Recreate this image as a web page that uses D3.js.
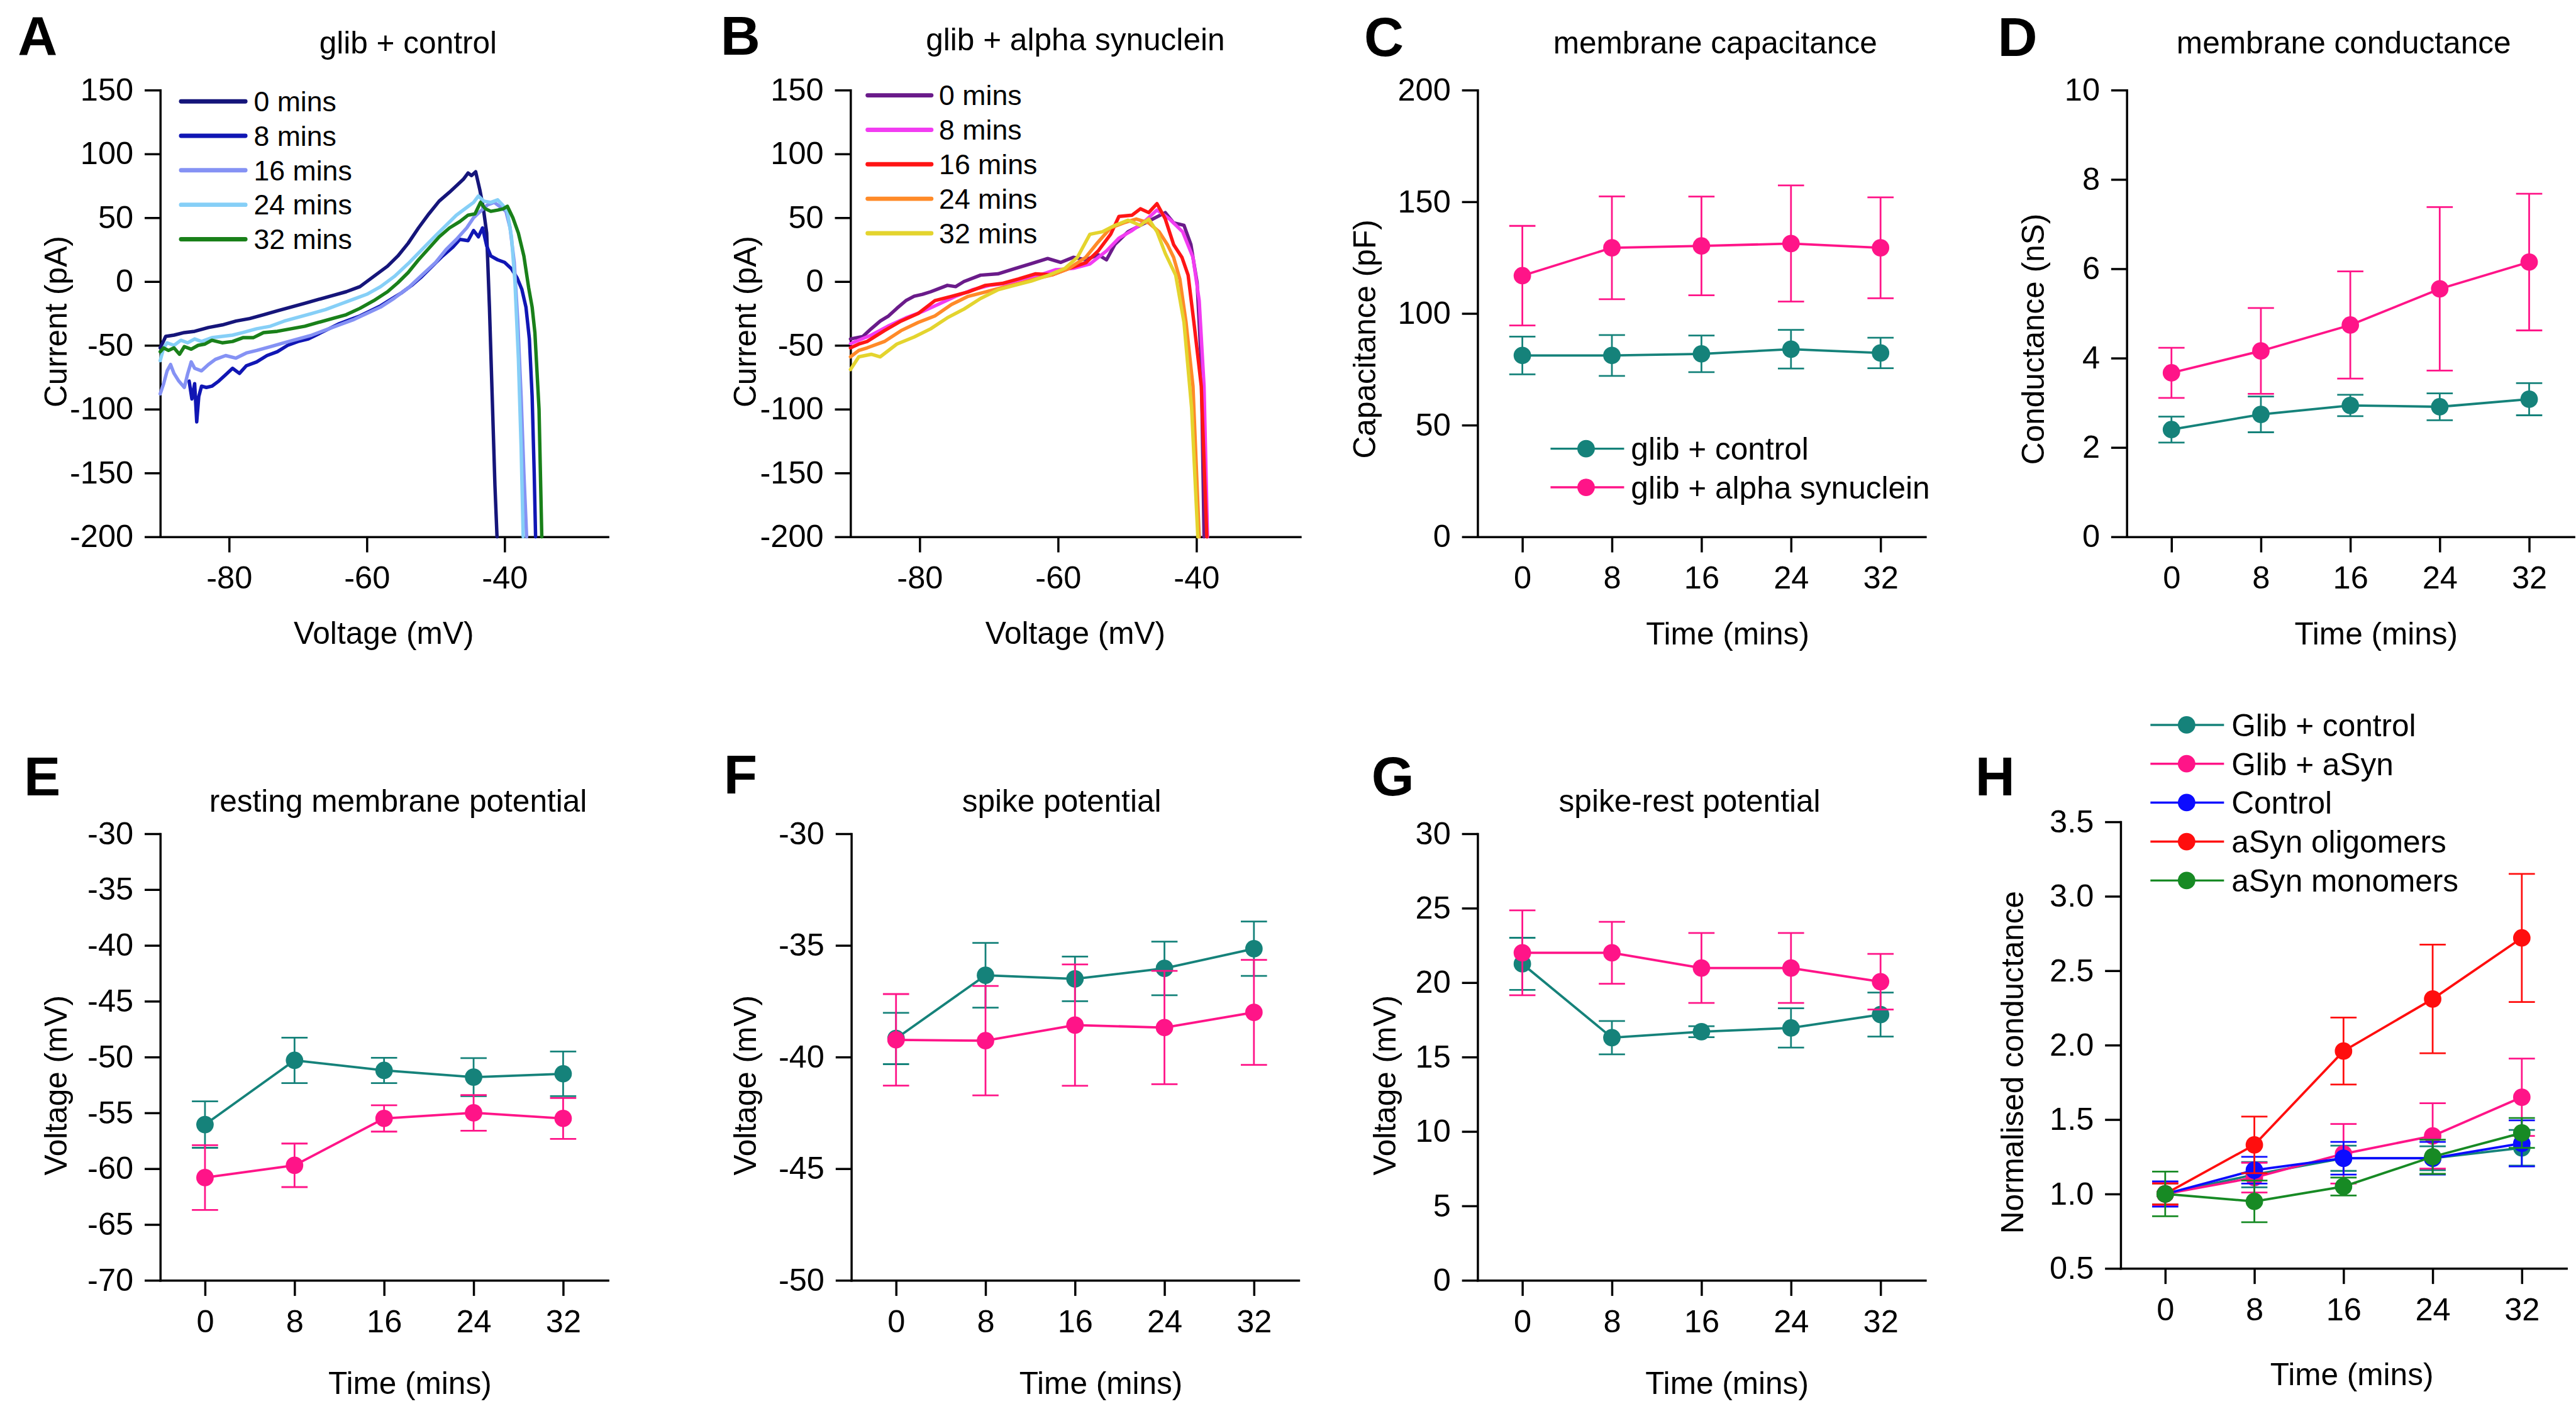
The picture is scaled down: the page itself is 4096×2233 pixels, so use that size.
<!DOCTYPE html>
<html><head><meta charset="utf-8">
<script src="https://cdn.jsdelivr.net/npm/d3@7"></script>
<style>html,body{margin:0;padding:0;background:#fff;overflow:hidden}</style>
</head><body>
<svg id="fig"></svg>
<script>
// ---------------- DATA ----------------
const ivLegendLabels = ['0 mins', '8 mins', '16 mins', '24 mins', '32 mins'];
const voltageTicks = [-80, -60, -40];
const currentTicks = [-200, -150, -100, -50, 0, 50, 100, 150];

// Panel A: glib + control  ([voltage mV, current pA])
const ctrl0 = [[-90,-52],[-89.2,-43],[-88,-42],[-86.5,-40],[-85,-39],[-83,-36],[-81,-34],[-79,-31],[-77,-29],[-75,-26],[-73,-23],[-71,-20],[-69,-17],[-67,-14],[-65,-11],[-63,-8],[-61,-4],[-59,4],[-57,12],[-55.5,20],[-54,30],[-52.5,42],[-51,53],[-49.5,63],[-48,70],[-47,75],[-46,80],[-45.3,85],[-44.8,83],[-44.2,86],[-43.6,72],[-43.1,58],[-42.6,38],[-42.2,-20],[-41.8,-90],[-41.4,-160],[-41.1,-200]];
const ctrl8 = [[-85.8,-78],[-85.4,-92],[-85.0,-80],[-84.7,-110],[-84.4,-90],[-84.0,-82],[-83.3,-83],[-82.5,-82],[-81.5,-78],[-80.5,-73],[-79.5,-68],[-78.5,-72],[-77.5,-66],[-76,-63],[-74.5,-58],[-73,-55],[-71.5,-50],[-70,-47],[-68.5,-45],[-67,-41],[-65.5,-37],[-64,-33],[-62.5,-30],[-61,-27],[-59.5,-23],[-58,-19],[-56.5,-14],[-55,-9],[-53.5,-3],[-52,4],[-50.5,12],[-49,20],[-47.5,27],[-46.5,33],[-45.3,32],[-44.5,40],[-43.8,35],[-43.2,42],[-42.6,28],[-42,20],[-41,17],[-40,15],[-39,10],[-38.2,3],[-37.5,-6],[-36.9,-20],[-36.4,-45],[-36.0,-90],[-35.7,-150],[-35.5,-200]];
const ctrl16 = [[-90,-88],[-89.5,-80],[-89,-70],[-88.5,-65],[-88,-72],[-87.3,-78],[-86.5,-83],[-86,-72],[-85.5,-63],[-85,-68],[-84,-70],[-83,-65],[-82,-61],[-80.5,-58],[-79,-60],[-77.5,-56],[-76,-54],[-74,-51],[-72,-48],[-70,-45],[-68,-42],[-66,-38],[-64,-34],[-62,-30],[-60,-25],[-58,-20],[-56,-13],[-54,-5],[-52,5],[-50,15],[-48.5,25],[-47,33],[-45.5,42],[-44.5,50],[-43.5,55],[-42.5,60],[-41.5,62],[-40.5,58],[-39.8,55],[-39.2,42],[-38.6,15],[-38.1,-30],[-37.6,-90],[-37.2,-150],[-36.8,-200]];
const ctrl24 = [[-90,-62],[-89.5,-52],[-89,-48],[-88,-50],[-87,-46],[-86,-48],[-85,-45],[-84,-47],[-82.5,-44],[-81,-43],[-79.5,-42],[-78,-40],[-76,-37],[-74,-35],[-72,-31],[-70,-28],[-68,-25],[-66,-22],[-64,-18],[-62,-14],[-60,-10],[-58,-4],[-56,4],[-54,14],[-52,25],[-50,36],[-48.5,44],[-47,52],[-45.5,58],[-44.5,62],[-43.8,67],[-43,63],[-42,62],[-41,64],[-40.3,60],[-39.6,55],[-39,35],[-38.5,0],[-38,-60],[-37.6,-130],[-37.3,-200]];
const ctrl32 = [[-90,-55],[-89.5,-52],[-88.8,-54],[-88,-52],[-87.2,-57],[-86.5,-51],[-85.5,-53],[-84.5,-50],[-83.5,-49],[-82.5,-46],[-81,-48],[-79.5,-47],[-78,-44],[-76.5,-44],[-75,-40],[-73,-39],[-71,-37],[-69,-35],[-67,-32],[-65,-29],[-63,-26],[-61,-21],[-59,-15],[-57,-8],[-55.5,-1],[-54,7],[-52.5,17],[-51,26],[-49.5,35],[-48,42],[-46.5,47],[-45.3,52],[-44.3,53],[-43.5,62],[-42.8,57],[-42,55],[-41,56],[-40.2,57],[-39.6,59],[-38.8,50],[-38,38],[-37.2,20],[-36.5,-5],[-36,-20],[-35.6,-40],[-35.3,-70],[-35,-100],[-34.8,-150],[-34.6,-200]];

// Panel B: glib + alpha synuclein
const syn0 = [[-90,-45],[-88.2,-43],[-87,-37],[-85.7,-31],[-84.5,-27],[-83.3,-21],[-82,-15],[-80.8,-11.5],[-79.6,-10],[-78.4,-8],[-76,-3],[-74.8,-4],[-73.6,0],[-71.2,5],[-68.7,6],[-66.3,10],[-63.9,14],[-61.5,18],[-59.6,15],[-57.8,19],[-56,17],[-54.2,21],[-53,17],[-51.8,29],[-49.9,39],[-48.1,44],[-46.3,49],[-44.5,54],[-43.3,46],[-41.8,44],[-40.8,29],[-39.9,-1],[-39.3,-65],[-38.9,-200]];
const syn8 = [[-90,-48.6],[-87,-42],[-84.6,-35],[-82,-28.5],[-79.6,-23.5],[-77.2,-17.6],[-74.8,-11.6],[-72.4,-6.5],[-69.9,-3],[-67.5,-1.5],[-65.1,2],[-62.7,5],[-60.3,9.3],[-57.8,10.3],[-55.4,13.7],[-53,24],[-51.2,34],[-49.3,40],[-47.5,47],[-45.7,56],[-43.9,49],[-42,39],[-40.5,19],[-39.6,-15],[-38.9,-82],[-38.4,-200]];
const syn16 = [[-90,-52],[-88.8,-49],[-87.6,-47],[-85.1,-38.5],[-82.7,-31],[-80.2,-25],[-77.8,-15],[-75.4,-11.6],[-73,-8.2],[-70.5,-3],[-68.1,-1.5],[-65.7,2],[-63.3,6],[-60.8,5.3],[-58.4,10.3],[-56,14.7],[-54.2,24],[-52.4,37],[-51.2,51],[-49.3,52],[-48.1,57],[-46.9,54],[-45.7,61],[-44.5,49],[-43.3,29],[-42.1,19],[-41.2,5],[-40.3,-35],[-39.3,-82],[-38.5,-200]];
const syn24 = [[-90,-59],[-88.8,-54],[-87.6,-52],[-85.1,-47],[-82.7,-38.5],[-80.2,-32],[-77.8,-27],[-75.4,-18],[-73,-11.6],[-70.5,-8.2],[-68.1,-4.8],[-65.7,-1.5],[-63.3,2],[-60.8,5.3],[-58.4,10.3],[-56,19],[-54.2,31],[-52.4,42],[-50.5,46],[-48.7,49],[-46.9,46],[-45.4,39],[-44.2,29],[-43.3,19],[-42.4,2],[-41.5,-32],[-40.5,-82],[-39.6,-200]];
const syn32 = [[-90,-69],[-88.8,-59],[-87,-57],[-85.7,-59],[-83.3,-49],[-80.8,-43.5],[-78.4,-37],[-76,-28.4],[-73.6,-21.6],[-71.2,-13.3],[-68.7,-6.5],[-66.3,-3],[-63.9,0.3],[-61.5,4.7],[-59,10.3],[-57.2,19],[-55.4,37],[-53.6,39],[-51.8,44],[-49.9,48],[-48.1,44],[-46.9,49],[-45.7,39],[-44.5,22],[-43,5],[-41.8,-32],[-40.7,-99],[-39.8,-200]];

// Time-course panels
const timePoints = [0, 8, 16, 24, 32];
const capTicks = [0, 50, 100, 150, 200];
const condTicks = [0, 2, 4, 6, 8, 10];
const restTicks = [-70, -65, -60, -55, -50, -45, -40, -35, -30];
const spikeTicks = [-50, -45, -40, -35, -30];
const spikeRestTicks = [0, 5, 10, 15, 20, 25, 30];
const normTicks = [0.5, 1.0, 1.5, 2.0, 2.5, 3.0, 3.5];

const capControl = [81.2, 81.2, 81.9, 84.0, 82.3];
const capControlSem = [8.45, 9.15, 8.2, 8.65, 6.8];
const capSyn = [116.9, 129.4, 130.2, 131.3, 129.4];
const capSynSem = [22.3, 23.0, 22.1, 26.0, 22.6];

const condControl = [2.40, 2.74, 2.94, 2.91, 3.08];
const condControlSem = [0.29, 0.40, 0.24, 0.30, 0.36];
const condSyn = [3.67, 4.16, 4.74, 5.55, 6.15];
const condSynSem = [0.56, 0.96, 1.20, 1.83, 1.53];

const restControl = [-56.05, -50.3, -51.2, -51.8, -51.5];
const restControlSem = [2.08, 2.03, 1.13, 1.7, 2.0];
const restSyn = [-60.8, -59.7, -55.5, -55.0, -55.5];
const restSynSem = [2.9, 1.95, 1.18, 1.6, 1.83];

const spikeControl = [-39.17, -36.34, -36.5, -36.03, -35.15];
const spikeControlSem = [1.15, 1.45, 1.0, 1.2, 1.22];
const spikeSyn = [-39.23, -39.27, -38.57, -38.68, -38.0];
const spikeSynSem = [2.05, 2.45, 2.72, 2.54, 2.35];

const srControl = [21.26, 16.3, 16.7, 16.95, 17.85];
const srControlSem = [1.75, 1.12, 0.37, 1.32, 1.48];
const srSyn = [22.0, 22.0, 20.98, 20.98, 20.06];
const srSynSem = [2.85, 2.08, 2.35, 2.35, 1.87];

const normLabels = ['Glib + control', 'Glib + aSyn', 'Control', 'aSyn oligomers', 'aSyn monomers'];
const normGlibControl = [1.0, 1.13, 1.24, 1.24, 1.31];
const normGlibControlSem = [0.07, 0.085, 0.085, 0.08, 0.12];
const normGlibSyn = [1.0, 1.11, 1.27, 1.39, 1.65];
const normGlibSynSem = [0.08, 0.10, 0.20, 0.22, 0.26];
const normControl = [1.0, 1.16, 1.24, 1.24, 1.34];
const normControlSem = [0.085, 0.09, 0.11, 0.11, 0.155];
const normOligo = [1.0, 1.33, 1.96, 2.31, 2.72];
const normOligoSem = [0.07, 0.19, 0.225, 0.365, 0.43];
const normMono = [1.0, 0.95, 1.05, 1.25, 1.41];
const normMonoSem = [0.15, 0.14, 0.06, 0.115, 0.10];

// ---------------- STYLE / LAYOUT ----------------
const FONT = '"Liberation Sans", Arial, Helvetica, sans-serif';
const TEAL = '#15827a', PINK = '#ff1488', BLUE = '#0c0cff', RED = '#ff0e0e', GREEN = '#178a24';
const ctrlColors = ['#15157a', '#1016b4', '#8592f4', '#86cff7', '#198019'];
const synColors = ['#6a1b8a', '#f23cf2', '#ff1515', '#ff8a28', '#e4d42e'];

const svg = d3.select('#fig').attr('width', 4096).attr('height', 2233)
  .attr('viewBox', '0 0 4130 2252');
svg.append('rect').attr('width', 4130).attr('height', 2252).attr('fill', '#fff');

function txt(x, y, s, size, opts = {}) {
  return svg.append('text').attr('x', x).attr('y', y).text(s)
    .attr('font-family', FONT).attr('font-size', size)
    .attr('font-weight', opts.bold ? 'bold' : 'normal')
    .attr('text-anchor', opts.anchor || 'middle').attr('fill', '#000');
}
function ylabel(bx, cy, s) {
  svg.append('text').attr('transform', `translate(${bx},${cy}) rotate(-90)`)
    .text(s).attr('font-family', FONT).attr('font-size', 50)
    .attr('text-anchor', 'middle').attr('fill', '#000');
}

function axes(L, xDom, yDom, xTicks, yTicks, yFmt) {
  const x = d3.scaleLinear().domain(xDom).range([L.x0, L.x1]);
  const y = d3.scaleLinear().domain(yDom).range([L.yB, L.yT]);
  const g = svg.append('g');
  const ax = g.append('g').attr('transform', `translate(0,${L.yB})`)
    .call(d3.axisBottom(x).tickValues(xTicks).tickSize(25).tickSizeOuter(0).tickPadding(22).tickFormat(d => String(d)));
  const ay = g.append('g').attr('transform', `translate(${L.x0},0)`)
    .call(d3.axisLeft(y).tickValues(yTicks).tickSize(25).tickSizeOuter(0).tickPadding(18).tickFormat(yFmt || (d => String(d))));
  [ax, ay].forEach(a => {
    a.select('.domain').attr('stroke', '#000').attr('stroke-width', 3.5).attr('stroke-linecap', 'square');
    a.selectAll('.tick line').attr('stroke', '#000').attr('stroke-width', 3.5);
    a.selectAll('.tick text').attr('font-size', 51).attr('font-family', FONT).attr('fill', '#000');
  });
  return { x, y, g };
}

function traces(P, list, colors) {
  const line = d3.line().x(d => P.x(d[0])).y(d => P.y(d[1]));
  P.g.selectAll(null).data(list).enter().append('path')
    .attr('d', d => line(d)).attr('fill', 'none')
    .attr('stroke', (d, i) => colors[i]).attr('stroke-width', 5.5)
    .attr('stroke-linejoin', 'round').attr('stroke-linecap', 'round');
}

function ivLegend(x0, x1, tx, rows, colors) {
  ivLegendLabels.forEach((lab, i) => {
    svg.append('line').attr('x1', x0).attr('x2', x1).attr('y1', rows[i]).attr('y2', rows[i])
      .attr('stroke', colors[i]).attr('stroke-width', 7).attr('stroke-linecap', 'round');
    txt(tx, rows[i] + 16, lab, 45, { anchor: 'start' });
  });
}

function series(P, means, sems, color) {
  const pts = timePoints.map((t, i) => ({ t, m: means[i], e: sems[i] }));
  const g = P.g.append('g');
  const cap = 21;
  pts.forEach(p => {
    const xx = P.x(p.t), yl = P.y(p.m - p.e), yh = P.y(p.m + p.e);
    g.append('line').attr('x1', xx).attr('x2', xx).attr('y1', yl).attr('y2', yh);
    g.append('line').attr('x1', xx - cap).attr('x2', xx + cap).attr('y1', yl).attr('y2', yl);
    g.append('line').attr('x1', xx - cap).attr('x2', xx + cap).attr('y1', yh).attr('y2', yh);
  });
  g.selectAll('line').attr('stroke', color).attr('stroke-width', 2.8);
  g.append('path').attr('d', d3.line().x(d => P.x(d.t)).y(d => P.y(d.m))(pts))
    .attr('fill', 'none').attr('stroke', color).attr('stroke-width', 3.8);
  g.selectAll('circle').data(pts).enter().append('circle')
    .attr('cx', d => P.x(d.t)).attr('cy', d => P.y(d.m)).attr('r', 14).attr('fill', color);
}

function markerLegend(x0, x1, mx, tx, rows, labels, colors) {
  labels.forEach((lab, i) => {
    svg.append('line').attr('x1', x0).attr('x2', x1).attr('y1', rows[i]).attr('y2', rows[i])
      .attr('stroke', colors[i]).attr('stroke-width', 3.5);
    svg.append('circle').attr('cx', mx).attr('cy', rows[i]).attr('r', 14).attr('fill', colors[i]);
    txt(tx, rows[i] + 18, lab, 50, { anchor: 'start' });
  });
}

const TOP = { yT: 144.5, yB: 861 };
const BOT = { yT: 1337.3, yB: 2053.6 };
const timeDom = [-4, 36];

// ---- A ----
const PA = axes({ x0: 256.5, x1: 974.4, ...TOP }, [-90, -25], [-200, 150], voltageTicks, currentTicks);
traces(PA, [ctrl0, ctrl8, ctrl16, ctrl24, ctrl32], ctrlColors);
ivLegend(290, 393, 406.5, [162.7, 217.8, 273.1, 328.4, 383.7], ctrlColors);
txt(654, 86, 'glib + control', 50);
txt(28, 88, 'A', 88, { bold: true, anchor: 'start' });
txt(615, 1033, 'Voltage (mV)', 50);
ylabel(106, 516, 'Current (pA)');

// ---- B ----
const PB = axes({ x0: 1363.4, x1: 2084.6, ...TOP }, [-90, -25], [-200, 150], voltageTicks, currentTicks);
traces(PB, [syn0, syn8, syn16, syn24, syn32], synColors);
ivLegend(1391, 1493, 1505.4, [152.9, 208.2, 263.5, 318.8, 374.1], synColors);
txt(1724, 81, 'glib + alpha synuclein', 50);
txt(1155, 88, 'B', 88, { bold: true, anchor: 'start' });
txt(1724, 1033, 'Voltage (mV)', 50);
ylabel(1212, 516, 'Current (pA)');

// ---- C ----
const PC = axes({ x0: 2369, x1: 3087, ...TOP }, timeDom, [0, 200], timePoints, capTicks);
series(PC, capControl, capControlSem, TEAL);
series(PC, capSyn, capSynSem, PINK);
markerLegend(2486, 2604, 2543, 2615, [719.7, 781.7], ['glib + control', 'glib + alpha synuclein'], [TEAL, PINK]);
txt(2750, 86, 'membrane capacitance', 50);
txt(2187, 90, 'C', 88, { bold: true, anchor: 'start' });
txt(2770, 1034, 'Time (mins)', 50);
ylabel(2205, 544, 'Capacitance (pF)');

// ---- D ----
const PD = axes({ x0: 3410, x1: 4127, ...TOP }, timeDom, [0, 10], timePoints, condTicks);
series(PD, condControl, condControlSem, TEAL);
series(PD, condSyn, condSynSem, PINK);
txt(3758, 86, 'membrane conductance', 50);
txt(3203, 90, 'D', 88, { bold: true, anchor: 'start' });
txt(3810, 1034, 'Time (mins)', 50);
ylabel(3277, 544, 'Conductance (nS)');

// ---- E ----
const PE = axes({ x0: 256.5, x1: 974.4, ...BOT }, timeDom, [-70, -30], timePoints, restTicks);
series(PE, restControl, restControlSem, TEAL);
series(PE, restSyn, restSynSem, PINK);
txt(638, 1302, 'resting membrane potential', 50);
txt(38, 1276, 'E', 88, { bold: true, anchor: 'start' });
txt(657, 2236, 'Time (mins)', 50);
ylabel(106, 1741, 'Voltage (mV)');

// ---- F ----
const PF = axes({ x0: 1364.7, x1: 2082.1, ...BOT }, timeDom, [-50, -30], timePoints, spikeTicks);
series(PF, spikeControl, spikeControlSem, TEAL);
series(PF, spikeSyn, spikeSynSem, PINK);
txt(1702, 1302, 'spike potential', 50);
txt(1160, 1273, 'F', 88, { bold: true, anchor: 'start' });
txt(1765, 2236, 'Time (mins)', 50);
ylabel(1212, 1741, 'Voltage (mV)');

// ---- G ----
const PG = axes({ x0: 2369, x1: 3087, ...BOT }, timeDom, [0, 30], timePoints, spikeRestTicks);
series(PG, srControl, srControlSem, TEAL);
series(PG, srSyn, srSynSem, PINK);
txt(2709, 1302, 'spike-rest potential', 50);
txt(2199, 1276, 'G', 88, { bold: true, anchor: 'start' });
txt(2769, 2236, 'Time (mins)', 50);
ylabel(2237, 1741, 'Voltage (mV)');

// ---- H ----
const PH = axes({ x0: 3400.2, x1: 4115, yT: 1318.2, yB: 2034.5 }, timeDom, [0.5, 3.5], timePoints, normTicks, d => d.toFixed(1));
series(PH, normGlibControl, normGlibControlSem, TEAL);
series(PH, normGlibSyn, normGlibSynSem, PINK);
series(PH, normControl, normControlSem, BLUE);
series(PH, normOligo, normOligoSem, RED);
series(PH, normMono, normMonoSem, GREEN);
markerLegend(3448, 3566, 3506, 3578, [1162.7, 1225, 1287.3, 1350, 1412.3], normLabels, [TEAL, PINK, BLUE, RED, GREEN]);
txt(3167, 1276, 'H', 88, { bold: true, anchor: 'start' });
txt(3771, 2222, 'Time (mins)', 50);
ylabel(3244, 1704, 'Normalised conductance');
</script>
</body></html>
